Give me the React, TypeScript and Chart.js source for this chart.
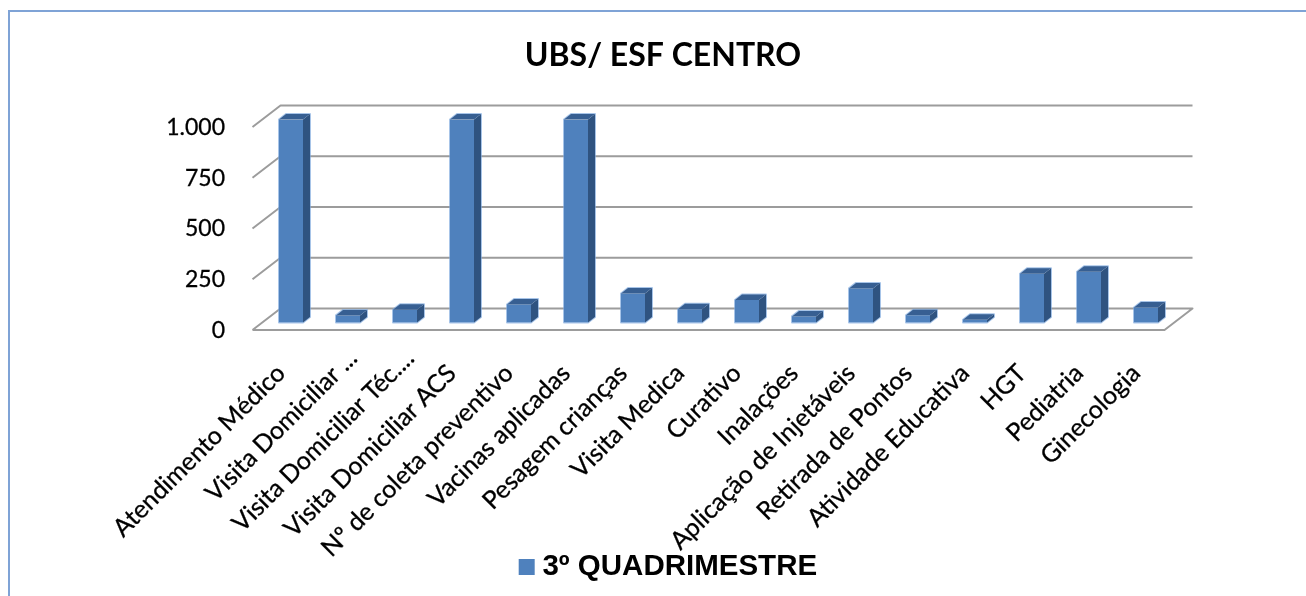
import React, { useEffect, useRef } from "react";
import { Chart, registerables } from "chart.js";

Chart.register(...registerables);

const chartTitle = "UBS/ ESF CENTRO";
const seriesName = "3º QUADRIMESTRE";
const categories = [
  "Atendimento Médico",
  "Visita Domiciliar ...",
  "Visita Domiciliar Téc....",
  "Visita Domiciliar ACS",
  "Nº de coleta preventivo",
  "Vacinas aplicadas",
  "Pesagem crianças",
  "Visita Medica",
  "Curativo",
  "Inalações",
  "Aplicação de Injetáveis",
  "Retirada de Pontos",
  "Atividade Educativa",
  "HGT",
  "Pediatria",
  "Ginecologia",
];
const values = [1000, 35, 63, 1000, 89, 1000, 143, 65, 111, 30, 168, 36, 13, 240, 250, 74];

const FRONT = "#4F81BD";
const SIDE = "#2F5380";
const TOP = "#375F92";
const RIM = "rgba(120,165,220,0.65)";
const GRID = "#9C9C9C";
const FRAME = "#7FA3D6";

const depth = { dx: 7, dy: 5.5 };
const floorFront = { dx: -10, dy: 7.5 };
const floorBack = { dx: 18, dy: -14 };
const legendShift = 8.4;
const truncatedLabelShift = 15;

const frame3d = {
  id: "frame3d",
  afterLayout(chart: any) {
    chart.legend.left += legendShift;
    chart.legend.right += legendShift;
    const xScale = chart.scales.x;
    xScale.bottom = chart.height;
    const items = xScale.getLabelItems(chart.chartArea);
    items.forEach((item: any) => {
      const text = String(item.label);
      if (text.endsWith("...")) {
        item.options.translation[0] += truncatedLabelShift;
        item.options.translation[1] -= truncatedLabelShift;
      }
    });
  },
  beforeDraw(chart: any) {
    const { ctx, width, height } = chart;
    ctx.save();
    ctx.strokeStyle = FRAME;
    ctx.lineWidth = 2;
    ctx.beginPath();
    ctx.moveTo(9, height);
    ctx.lineTo(9, 11);
    ctx.lineTo(width, 11);
    ctx.stroke();
    ctx.restore();
  },
  beforeDatasetsDraw(chart: any) {
    const { ctx, scales } = chart;
    const { x, y } = scales;
    ctx.save();
    ctx.strokeStyle = GRID;
    ctx.lineWidth = 2;
    ctx.lineJoin = "round";
    y.ticks.forEach((tick: any) => {
      const py = y.getPixelForValue(tick.value);
      ctx.beginPath();
      ctx.moveTo(x.left + floorFront.dx, py + floorFront.dy);
      ctx.lineTo(x.left + floorBack.dx, py + floorBack.dy);
      ctx.lineTo(x.right + floorBack.dx, py + floorBack.dy);
      if (tick.value === 0) {
        ctx.lineTo(x.right + floorFront.dx, py + floorFront.dy);
        ctx.lineTo(x.left + floorFront.dx, py + floorFront.dy);
      }
      ctx.stroke();
    });
    ctx.strokeStyle = RIM;
    ctx.lineWidth = 2;
    chart.getDatasetMeta(0).data.forEach((bar: any) => {
      const { x: bx, y: by, base, width } = bar.getProps(["x", "y", "base", "width"], true);
      const r = bx + width / 2;
      const l = bx - width / 2;
      ctx.beginPath();
      ctx.moveTo(l, base);
      ctx.lineTo(l, by);
      ctx.lineTo(l + depth.dx, by - depth.dy);
      ctx.lineTo(r + depth.dx, by - depth.dy);
      ctx.lineTo(r + depth.dx, base - depth.dy);
      ctx.lineTo(r, base);
      ctx.closePath();
      ctx.stroke();
    });
    ctx.restore();
  },
  afterDatasetsDraw(chart: any) {
    const { ctx } = chart;
    const bars = chart.getDatasetMeta(0).data;
    ctx.save();
    bars.forEach((bar: any) => {
      const { x, y, base, width } = bar.getProps(["x", "y", "base", "width"], true);
      const r = x + width / 2;
      const l = x - width / 2;
      ctx.fillStyle = SIDE;
      ctx.beginPath();
      ctx.moveTo(r, y);
      ctx.lineTo(r + depth.dx, y - depth.dy);
      ctx.lineTo(r + depth.dx, base - depth.dy);
      ctx.lineTo(r, base);
      ctx.closePath();
      ctx.fill();
      ctx.fillStyle = TOP;
      ctx.beginPath();
      ctx.moveTo(l, y);
      ctx.lineTo(l + depth.dx, y - depth.dy);
      ctx.lineTo(r + depth.dx, y - depth.dy);
      ctx.lineTo(r, y);
      ctx.closePath();
      ctx.fill();
    });
    ctx.restore();
  },
};

export default function App() {
  const ref = useRef<HTMLCanvasElement>(null);
  useEffect(() => {
    document.body.style.margin = "0";
    document.body.style.background = "#fff";
    const chart = new Chart(ref.current as HTMLCanvasElement, {
      type: "bar",
      data: {
        labels: categories,
        datasets: [
          {
            label: seriesName,
            data: values,
            backgroundColor: FRONT,
            borderWidth: 0,
            barPercentage: 24 / 57,
            categoryPercentage: 1,
          },
        ],
      },
      options: {
        responsive: false,
        animation: false,
        layout: { padding: { left: 20, right: 0, top: 0, bottom: 4.25 } },
        plugins: {
          title: {
            display: true,
            text: chartTitle,
            color: "#000",
            font: { family: "Lato", size: 32, weight: "bold" },
            padding: { top: 36.3, bottom: 44.8 },
          },
          legend: {
            position: "bottom",
            labels: {
              color: "#000",
              font: { family: "'Liberation Sans'", size: 29.5, weight: "bold" },
              usePointStyle: true,
              pointStyle: "rect",
              boxWidth: 2,
              boxHeight: 16,
              padding: 10,
            },
          },
          tooltip: { enabled: false },
        },
        scales: {
          x: {
            type: "category",
            grid: { display: false, drawTicks: false },
            border: { display: false },
            ticks: {
              autoSkip: false,
              minRotation: 45,
              maxRotation: 45,
              color: "#000",
              padding: 36,
              labelOffset: -10,
              textStrokeColor: "#000",
              textStrokeWidth: 0.3,
              font: { family: "Lato", size: 25 },
            },
            afterFit(scale: any) {
              scale.height = 219.75;
            },
          },
          y: {
            min: 0,
            max: 1000,
            grid: { display: false, drawTicks: false },
            border: { display: false },
            ticks: {
              stepSize: 250,
              color: "#000",
              padding: 37.5,
              labelOffset: 8,
              textStrokeColor: "#000",
              textStrokeWidth: 0.3,
              font: { family: "Lato", size: 23 },
              callback: (v: any) => String(v).replace(/\B(?=(\d{3})+$)/g, "."),
            },
            afterFit(scale: any) {
              scale.width = 242.5;
            },
          },
          yRight: {
            position: "right",
            display: true,
            grid: { display: false, drawTicks: false },
            border: { display: false },
            ticks: { display: false },
            afterFit(scale: any) {
              scale.width = 131.5;
            },
          },
        },
      },
      plugins: [frame3d],
    } as any);
    return () => chart.destroy();
  }, []);
  return (
    <canvas
      ref={ref}
      width={1306}
      height={596}
      style={{ display: "block", width: 1306, height: 596, filter: "blur(0.5px)" }}
    />
  );
}
